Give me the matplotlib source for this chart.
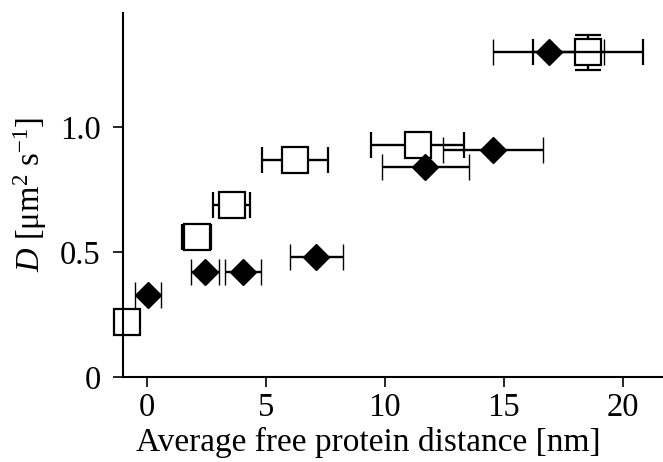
import matplotlib
matplotlib.use("Agg")
import matplotlib.pyplot as plt

plt.rcParams['font.family'] = ['Liberation Serif', 'DejaVu Serif']
plt.rcParams['mathtext.fontset'] = 'custom'
plt.rcParams['mathtext.rm'] = 'Liberation Serif'
plt.rcParams['mathtext.it'] = 'Liberation Serif:italic'

# Open squares
sq_x = [-0.83, 2.1, 3.57, 6.23, 11.38, 18.55]
sq_y = [0.22, 0.56, 0.69, 0.87, 0.93, 1.30]
sq_xerr = [0.0, 0.6, 0.78, 1.37, 1.95, 2.31]
sq_yerr = [0.0, 0.0, 0.0, 0.0, 0.0, 0.07]

# Filled diamonds
di_x = [0.05, 2.44, 4.05, 7.13, 11.7, 14.55, 16.9]
di_y = [0.33, 0.42, 0.42, 0.48, 0.84, 0.91, 1.30]
di_xerr = [0.53, 0.6, 0.76, 1.12, 1.83, 2.1, 2.34]

xticks = [0, 5, 10, 15, 20]
yticks = [0, 0.5, 1.0]
yticklabels = ['0', '0.5', '1.0']

fig = plt.figure(figsize=(6.63, 4.62), dpi=100)
ax = fig.add_axes([123/663, 85/462, 540/663, 364/462])

def clipoff(container):
    for a in container.get_children():
        a.set_clip_on(False)

c1 = ax.errorbar(sq_x, sq_y, xerr=sq_xerr, yerr=sq_yerr, fmt='s', ms=18.5,
                 mfc='white', mec='black', mew=1.6, ecolor='black',
                 elinewidth=1.7, capsize=9.4, capthick=1.7, zorder=2)
c2 = ax.errorbar(di_x, di_y, xerr=di_xerr, fmt='D', ms=13.5,
                 mfc='black', mec='black', mew=1, ecolor='black',
                 elinewidth=1.7, capsize=9.4, capthick=1.7, zorder=3)
clipoff(c1)
clipoff(c2)

ax.set_xlim(-1.0, 21.7)
ax.set_ylim(0, 1.456)
ax.set_xticks(xticks)
ax.set_yticks(yticks)
ax.set_yticklabels(yticklabels)

for s in ['top', 'right']:
    ax.spines[s].set_visible(False)
for s in ['left', 'bottom']:
    ax.spines[s].set_linewidth(1.5)

ax.tick_params(axis='both', direction='out', length=7, width=1.2,
               labelsize=23.5)
ax.tick_params(axis='y', pad=9)
ax.tick_params(axis='x', pad=4)

ax.set_xlabel('Average free protein distance [nm]', fontsize=24)
ax.xaxis.set_label_coords(0.454, -0.138, transform=ax.transAxes)
ax.set_ylabel(r'$D$ [μm$^{2}$ s$^{\mathregular{-1}}$]', fontsize=23.5, labelpad=8)

fig.savefig('out.png', dpi=100)
